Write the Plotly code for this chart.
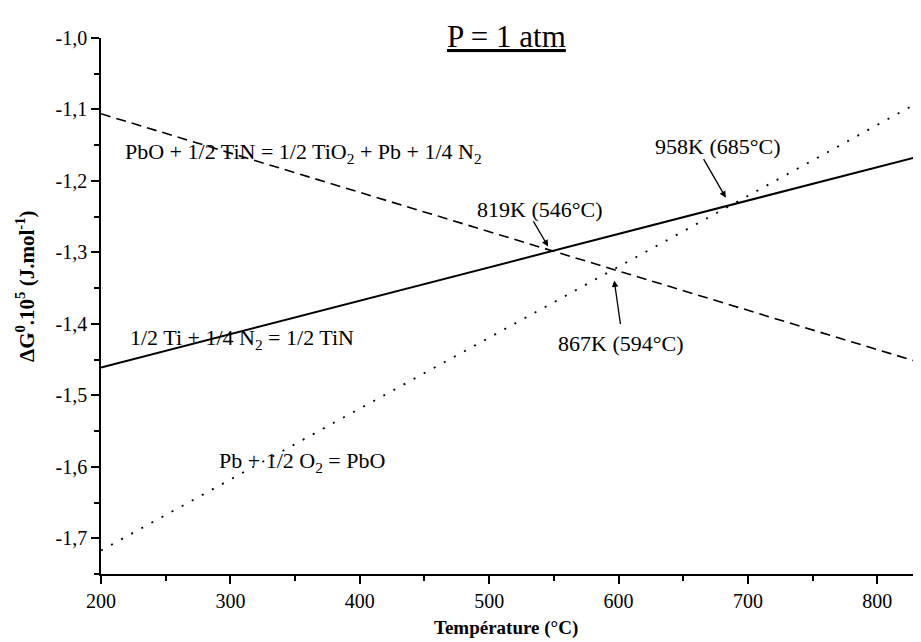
import plotly.graph_objects as go

# Data (temperature in °C, ΔG° in 1e5 J/mol)
temperature = [200, 840]
dg_tin = [-1.461, -1.162]       # 1/2 Ti + 1/4 N2 = 1/2 TiN (solid)
dg_pbo_tin = [-1.106, -1.458]   # PbO + 1/2 TiN = 1/2 TiO2 + Pb + 1/4 N2 (dashed)
dg_pbo = [-1.717, -1.082]       # Pb + 1/2 O2 = PbO (dotted)

x_ticks = [200, 300, 400, 500, 600, 700, 800]
y_ticks = [-1.0, -1.1, -1.2, -1.3, -1.4, -1.5, -1.6, -1.7]
y_ticktext = ["-1,0", "-1,1", "-1,2", "-1,3", "-1,4", "-1,5", "-1,6", "-1,7"]

FONT = "Liberation Serif, Times New Roman, serif"

fig = go.Figure()
fig.add_trace(go.Scatter(x=temperature, y=dg_tin, mode="lines",
                         line=dict(color="black", width=2), showlegend=False))
fig.add_trace(go.Scatter(x=temperature, y=dg_pbo_tin, mode="lines",
                         line=dict(color="black", width=1.6, dash="10px,6px"), showlegend=False))
fig.add_trace(go.Scatter(x=temperature, y=dg_pbo, mode="lines",
                         line=dict(color="black", width=1.8, dash="2px,9.5px"), showlegend=False))

axis_common = dict(showgrid=False, zeroline=False, showline=True, linecolor="black",
                   linewidth=1.5, ticks="outside", ticklen=8, tickwidth=1.5, tickcolor="black",
                   tickfont=dict(family=FONT, size=20, color="black"))

fig.update_xaxes(range=[200, 840], tickmode="array", tickvals=x_ticks,
                 minor=dict(ticks="outside", ticklen=5, tickwidth=1.5, tickcolor="black",
                            tickmode="array", tickvals=[250, 350, 450, 550, 650, 750]),
                 **axis_common)
fig.update_yaxes(range=[-1.75, -1.0], tickmode="array", tickvals=y_ticks, ticktext=y_ticktext,
                 minor=dict(ticks="outside", ticklen=5, tickwidth=1.5, tickcolor="black",
                            tickmode="array",
                            tickvals=[-1.05, -1.15, -1.25, -1.35, -1.45, -1.55, -1.65, -1.75]),
                 **axis_common)

lab_font = dict(family=FONT, size=22, color="black")
labels = [
    (217.0, -1.1614, "PbO + 1/2 TiN = 1/2 TiO<sub>2</sub> + Pb + 1/4 N<sub>2</sub>"),
    (220.9, -1.4216, "1/2 Ti + 1/4 N<sub>2</sub> = 1/2 TiN"),
    (289.7, -1.5927, "Pb + 1/2 O<sub>2</sub> = PbO"),
    (489.1, -1.2393, "819K (546°C)"),
    (626.7, -1.1517, "958K (685°C)"),
    (551.7, -1.4272, "867K (594°C)"),
]
for x, y, t in labels:
    fig.add_annotation(x=x, y=y, xref="x", yref="y", text=t, showarrow=False,
                       xanchor="left", yanchor="middle", font=lab_font)

# arrows pointing to the line intersections
arrows = [(547.5, -1.2978, -18, -31, 5), (686.0, -1.2331, -27, -47, 8), (595.5, -1.3240, 8, 56, 11)]
for x, y, ax, ay, so in arrows:
    fig.add_annotation(x=x, y=y, xref="x", yref="y", text="", showarrow=True,
                       ax=ax, ay=ay, arrowhead=2, arrowsize=1, arrowwidth=1.3,
                       arrowcolor="black", standoff=so)

fig.add_annotation(x=0.4897, y=1.0019, xref="paper", yref="paper", text="<u>P = 1 atm</u>",
                   showarrow=False, xanchor="center", yanchor="middle",
                   font=dict(family=FONT, size=31, color="black"))
fig.add_annotation(x=0.4897, y=-0.0765, xref="paper", yref="paper",
                   text="<b>Température (°C)</b>", showarrow=False,
                   xanchor="center", yanchor="top",
                   font=dict(family=FONT, size=19, color="black"))
fig.add_annotation(x=-0.0918, y=0.5373, xref="paper", yref="paper",
                   text="<b>ΔG<sup>0</sup>.10<sup>5</sup> (J.mol<sup>-1</sup>)</b>",
                   showarrow=False, textangle=-90, xanchor="center", yanchor="middle",
                   font=dict(family=FONT, size=21, color="black"))

fig.update_layout(width=921, height=642, plot_bgcolor="white", paper_bgcolor="white",
                  margin=dict(l=93, r=0, t=30, b=76))

fig.write_html("out.html")
